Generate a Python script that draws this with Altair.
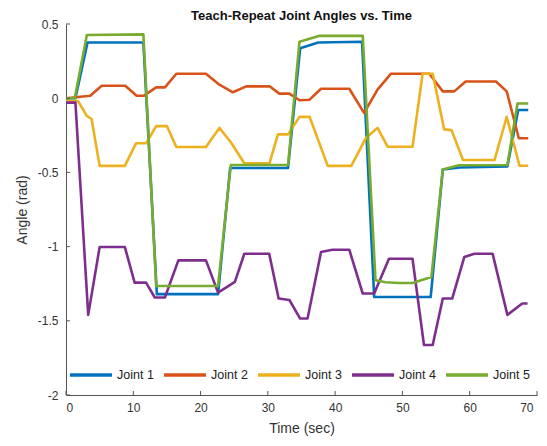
import altair as alt
import pandas as pd

# ---- data ----
t1 = [0, 1.4, 3.2, 11.5, 13.5, 22.6, 24.4, 33.0, 34.8, 37.5, 44.0, 45.8, 54.2, 56.0, 58.5, 65.6, 67.2, 68.7]
j1 = [0.0, 0.0, 0.375, 0.375, -1.32, -1.32, -0.47, -0.47, 0.337, 0.375, 0.38, -1.34, -1.34, -0.48, -0.467, -0.46, -0.08, -0.08]

t2 = [0, 3.6, 5.3, 8.8, 10.5, 11.6, 13.4, 14.7, 16.4, 20.8, 22.8, 24.8, 26.8, 30.25, 31.7, 33.2, 34.7, 36.2,
      37.9, 42.1, 44.3, 46.3, 48.3, 54.0, 56.0, 57.7, 59.4, 63.9, 65.5, 67.3, 68.7]
j2 = [0.0, 0.017, 0.084, 0.084, 0.017, 0.017, 0.073, 0.073, 0.165, 0.165, 0.091, 0.04, 0.08, 0.08, 0.031, 0.031,
      -0.014, -0.01, 0.064, 0.064, -0.099, 0.058, 0.165, 0.165, 0.046, 0.046, 0.113, 0.113, 0.046, -0.27, -0.27]

t3 = [0, 1.8, 3.1, 3.8, 5.0, 8.75, 10.4, 11.9, 13.4, 15.0, 16.4, 20.8, 22.8, 24.6, 26.5, 30.25, 31.5, 33.0,
      34.7, 36.2, 38.9, 42.4, 44.6, 46.3, 47.8, 51.5, 53.0, 54.5, 56.2, 57.3, 59.0, 63.7, 65.5, 67.4, 68.7]
j3 = [-0.02, -0.02, -0.12, -0.14, -0.456, -0.456, -0.304, -0.304, -0.188, -0.188, -0.329, -0.329, -0.2, -0.304,
      -0.438, -0.438, -0.244, -0.244, -0.126, -0.125, -0.456, -0.456, -0.266, -0.2, -0.327, -0.327, 0.165, 0.165,
      -0.21, -0.215, -0.416, -0.416, -0.125, -0.455, -0.455]

t4 = [0, 1.4, 3.3, 5.0, 8.75, 10.2, 11.9, 13.2, 14.7, 16.7, 20.8, 22.6, 25.1, 26.5, 30.2, 31.6, 33.2, 34.8, 35.9,
      37.9, 39.6, 42.1, 44.1, 45.8, 48.0, 51.5, 53.2, 54.5, 56.0, 57.4, 59.2, 60.7, 63.4, 65.6, 67.8, 68.6]
j4 = [-0.03, -0.03, -1.46, -1.003, -1.003, -1.243, -1.243, -1.343, -1.343, -1.093, -1.093, -1.31, -1.238, -1.048,
      -1.048, -1.35, -1.36, -1.485, -1.485, -1.037, -1.021, -1.021, -1.316, -1.316, -1.082, -1.082, -1.663, -1.663,
      -1.35, -1.35, -1.07, -1.048, -1.048, -1.46, -1.383, -1.383]

t5 = [0, 1.3, 3.1, 11.5, 13.4, 22.6, 24.5, 33.0, 34.7, 37.7, 44.1, 46.0, 47.5, 49.5, 51.5, 54.3, 56.0, 58.4,
      65.6, 67.1, 68.7]
j5 = [0.0, 0.0, 0.426, 0.43, -1.265, -1.265, -0.45, -0.45, 0.381, 0.42, 0.42, -1.227, -1.24, -1.245, -1.245,
      -1.205, -0.48, -0.452, -0.45, -0.036, -0.036]

names = ["Joint 1", "Joint 2", "Joint 3", "Joint 4", "Joint 5"]
colors = ["#0072BD", "#D95319", "#EDB120", "#7E2F8E", "#77AC30"]
x_ticks = [0, 10, 20, 30, 40, 50, 60, 70]
y_ticks = [-2, -1.5, -1, -0.5, 0, 0.5]

rows = []
for name, ts, vs in zip(names, [t1, t2, t3, t4, t5], [j1, j2, j3, j4, j5]):
    for i, (t, v) in enumerate(zip(ts, vs)):
        rows.append({"Time": t, "Angle": v, "Joint": name, "i": i})
df = pd.DataFrame(rows)

W, H = 471, 371
FONT = "Liberation Sans"
TXT = "#333333"
AX = "#555555"

xscale = alt.Scale(domain=[0, 70], nice=False, zero=False)
yscale = alt.Scale(domain=[-2, 0.5], nice=False, zero=False)

lines = alt.Chart(df).mark_line(strokeWidth=2.6, strokeJoin="round").encode(
    x=alt.X("Time:Q", scale=xscale, title="Time (sec)",
            axis=alt.Axis(values=x_ticks, ticks=False, labelPadding=7, titlePadding=8,
                          labelOffset={"condition": {"test": "datum.value == 70", "value": -4}, "value": 0})),
    y=alt.Y("Angle:Q", scale=yscale, title="Angle (rad)",
            axis=alt.Axis(values=y_ticks, ticks=False, labelPadding=8, titlePadding=8,
                          labelExpr="toString(datum.value)")),
    color=alt.Color("Joint:N", scale=alt.Scale(domain=names, range=colors),
                    legend=alt.Legend(title=None, orient="none", direction="horizontal",
                                      legendX=2, legendY=328, symbolType="stroke",
                                      symbolSize=1764, symbolStrokeWidth=3.5,
                                      labelFontSize=12.5, labelFont=FONT, labelColor="#222222",
                                      labelOffset=3, columnPadding=3, symbolOffset=0)),
    order="i:Q",
)

xt = alt.Chart(pd.DataFrame({"v": x_ticks})).mark_rule(color=AX, strokeWidth=1).encode(
    x=alt.X("v:Q", scale=xscale), y=alt.value(H), y2=alt.value(H - 4))
yt = alt.Chart(pd.DataFrame({"v": y_ticks})).mark_rule(color=AX, strokeWidth=1).encode(
    y=alt.Y("v:Q", scale=yscale), x=alt.value(0), x2=alt.value(4))

chart = alt.layer(lines, xt, yt).properties(
    width=W, height=H,
    title=alt.Title("Teach-Repeat Joint Angles vs. Time", fontSize=13, fontWeight="bold",
                    font=FONT, color="#111111", anchor="middle", offset=-5),
    autosize=alt.AutoSizeParams(type="none"),
    padding={"left": 58, "top": 16, "right": 2, "bottom": 43},
).configure_view(stroke=None).configure_axis(
    grid=False, domainColor=AX, domainWidth=1, labelFont=FONT, labelFontSize=12,
    labelColor=TXT, titleFont=FONT, titleFontSize=14, titleFontWeight="normal", titleColor=TXT,
)

chart.save("out.html", embed_options={"renderer": "svg", "actions": False})
